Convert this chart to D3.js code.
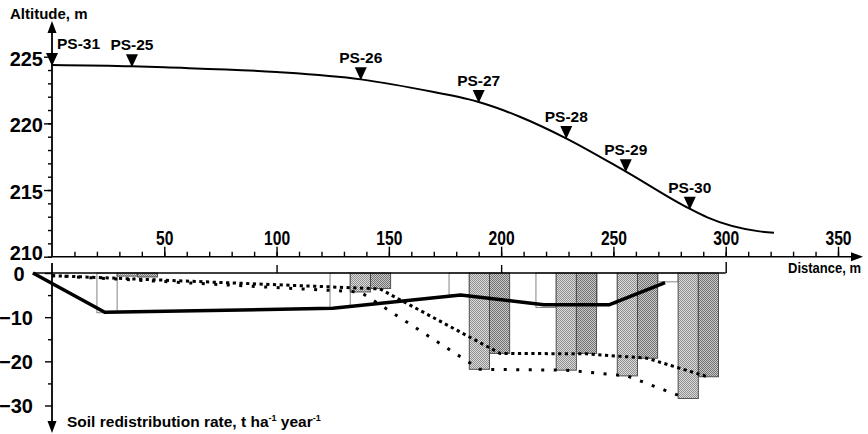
<!DOCTYPE html>
<html><head><meta charset="utf-8">
<script src="https://cdn.jsdelivr.net/npm/d3@7"></script>
<style>
body{margin:0;background:#fff}
svg{display:block}
text{font-family:"Liberation Sans",Arial,sans-serif;font-weight:bold;fill:#000}
</style>
</head><body>
<svg id="c" width="868" height="434"></svg>
<script>
// ---------- data ----------
const distanceTickLabels = [50, 100, 150, 200, 250, 300, 350];
const altitudeTickLabels = [210, 215, 220, 225];
const rateTickLabels = [0, -10, -20, -30];

// surface profile
const profileDist = [0, 35.6, 50, 100, 137.5, 170, 185.7, 190, 208.3, 228.7, 255.4, 283.9, 291.8, 315, 321.5];
const profileAlt  = [224.38, 224.28, 224.2, 223.85, 223.3, 222.35, 221.8, 221.6, 220.5, 218.9, 216.4, 213.6, 212.95, 211.9, 211.8];

// sampling points
const siteNames = ["PS-31", "PS-25", "PS-26", "PS-27", "PS-28", "PS-29", "PS-30"];
const siteDist  = [0, 35.6, 137.5, 190, 229, 255.5, 284];
const siteAlt   = [224.38, 224.28, 223.3, 221.6, 218.9, 216.4, 213.6];

// soil redistribution rate bars (groups at sampling points PS-25..PS-30)
const groupDist = [33.5, 137.3, 190.3, 229, 256.2, 283.3];
const rateA = [-9.0, -7.8, -5.0, -7.8, -7.0, -2.0];    // white bars
const rateB = [-0.7, -4.3, -21.8, -22.0, -23.3, -28.4]; // light stippled bars
const rateC = [-0.9, -3.5, -18.2, -18.2, -19.3, -23.5]; // dark stippled bars

// lines
const solidDist = [-8.5, 23.5, 125, 182, 219, 248, 273];
const solidVal  = [0, -8.9, -8.0, -5.0, -7.2, -7.2, -2.2];
const sparseDist = [0, 137.3, 190.5, 229, 256, 281.5];
const sparseVal  = [-0.6, -4.3, -21.8, -22.0, -23.3, -28.2];
const denseDist = [0, 146, 199.5, 238, 265, 292];
const denseVal  = [-0.6, -3.6, -18.2, -18.3, -19.3, -23.5];

const barWidth = 9; // metres

// ---------- drawing ----------
const svg = d3.select("#c");
const x = d3.scaleLinear().domain([0, 350]).range([52, 838]);
const yTop = d3.scaleLinear().domain([210, 225]).range([256.7, 56.7]);
const yBot = d3.scaleLinear().domain([0, -30]).range([273, 405.5]);
const axisX = 52, topAxisY = 256.7, zeroY = yBot(0);

const defs = svg.append("defs");
function pat(id, base, dot) {
  const p = defs.append("pattern").attr("id", id).attr("width", 2).attr("height", 2)
    .attr("patternUnits", "userSpaceOnUse");
  p.append("rect").attr("width", 2).attr("height", 2).attr("fill", base);
  p.append("rect").attr("width", 1).attr("height", 1).attr("fill", dot);
  p.append("rect").attr("x", 1).attr("y", 1).attr("width", 1).attr("height", 1).attr("fill", dot);
}
pat("patLight", "#dcdcdc", "#8e8e8e");
pat("patDark", "#c8c8c8", "#727272");

// ---- upper chart axes ----
const gx = svg.append("g").attr("transform", `translate(0,${topAxisY})`);
gx.call(d3.axisTop(x).tickValues(d3.range(10, 351, 10)).tickSize(5).tickFormat(""))
  .call(g => g.select(".domain").remove());
const gxm = svg.append("g").attr("transform", `translate(0,${topAxisY})`);
gxm.call(d3.axisTop(x).tickValues(distanceTickLabels).tickSize(10).tickPadding(2))
  .call(g => g.select(".domain").remove());
gxm.selectAll("text").style("font-size", "20px").attr("font-family", null)
  .attr("textLength", d => String(d).length * 8.7).attr("lengthAdjust", "spacingAndGlyphs");

svg.append("line").attr("x1", axisX).attr("x2", 852).attr("y1", topAxisY).attr("y2", topAxisY)
  .attr("stroke", "#000").attr("stroke-width", 1.6);
svg.append("path").attr("d", `M863,${topAxisY} L851,${topAxisY - 4.5} L851,${topAxisY + 4.5} Z`).attr("fill", "#000");

// y axis altitude
const gy = svg.append("g").attr("transform", `translate(${axisX},0)`);
gy.call(d3.axisLeft(yTop).tickValues(d3.range(210, 226, 1)).tickSize(4).tickFormat(""))
  .call(g => g.select(".domain").remove());
const gym = svg.append("g").attr("transform", `translate(${axisX},0)`);
gym.call(d3.axisLeft(yTop).tickValues(altitudeTickLabels).tickSize(8).tickPadding(1))
  .call(g => g.select(".domain").remove());
gym.selectAll("text").style("font-size", "20px").attr("font-family", null).attr("dy", "0.42em")
  .filter(d => d === 210).attr("y", -6);
svg.append("line").attr("x1", axisX).attr("x2", axisX).attr("y1", topAxisY).attr("y2", 32)
  .attr("stroke", "#000").attr("stroke-width", 1.8);
svg.append("path").attr("d", `M${axisX},21 L${axisX - 4.5},33 L${axisX + 4.5},33 Z`).attr("fill", "#000");
svg.append("text").attr("x", 10).attr("y", 19).style("font-size", "15px").text("Altitude, m");

// profile line
const profile = profileDist.map((d, i) => [d, profileAlt[i]]);
svg.append("path").datum(profile)
  .attr("d", d3.line().x(d => x(d[0])).y(d => yTop(d[1])).curve(d3.curveMonotoneX))
  .attr("fill", "none").attr("stroke", "#000").attr("stroke-width", 2);

// site markers
siteNames.forEach((name, i) => {
  const cx = x(siteDist[i]), cy = yTop(siteAlt[i]);
  svg.append("path").attr("d", `M${cx},${cy + 1} L${cx - 6},${cy - 12} L${cx + 6},${cy - 12} Z`).attr("fill", "#000");
  svg.append("text").attr("x", i === 0 ? cx + 5 : cx).attr("y", cy - 16)
    .attr("text-anchor", i === 0 ? "start" : "middle").style("font-size", "15.5px").text(name);
});

// ---- lower chart ----
const series = [
  {vals: rateA, off: -13.5, fill: "#fff", stroke: "#777"},
  {vals: rateB, off: -4.5, fill: "url(#patLight)", stroke: "#444"},
  {vals: rateC, off: 4.5, fill: "url(#patDark)", stroke: "#444"}
];
series.forEach(s => {
  svg.append("g").selectAll("rect").data(s.vals).join("rect")
    .attr("x", (d, i) => x(groupDist[i] + s.off))
    .attr("width", (d, i) => x(groupDist[i] + s.off + barWidth) - x(groupDist[i] + s.off))
    .attr("y", zeroY)
    .attr("height", d => yBot(d) - zeroY)
    .attr("fill", s.fill).attr("stroke", s.stroke).attr("stroke-width", 0.9);
});

// lower y axis
const gyb = svg.append("g").attr("transform", `translate(${axisX},0)`);
gyb.call(d3.axisLeft(yBot).tickValues([-5, -15, -25]).tickSize(4).tickFormat(""))
  .call(g => g.select(".domain").remove());
const gybm = svg.append("g").attr("transform", `translate(${axisX},0)`);
gybm.call(d3.axisLeft(yBot).tickValues(rateTickLabels).tickSize(7).tickPadding(12))
  .call(g => g.select(".domain").remove());
gybm.selectAll("text").style("font-size", "20px").attr("font-family", null).attr("dy", "0.36em")
  .filter(d => d === 0).attr("text-anchor", "middle").attr("x", -33);
svg.append("line").attr("x1", axisX).attr("x2", axisX).attr("y1", 263).attr("y2", 423)
  .attr("stroke", "#000").attr("stroke-width", 1.8);
svg.append("path").attr("d", `M${axisX},433 L${axisX - 4.5},421 L${axisX + 4.5},421 Z`).attr("fill", "#000");

// lower zero line with ticks
svg.append("line").attr("x1", x(-8.5)).attr("x2", x(300)).attr("y1", zeroY).attr("y2", zeroY)
  .attr("stroke", "#000").attr("stroke-width", 1.5);
const gxb = svg.append("g").attr("transform", `translate(0,${zeroY})`);
gxb.call(d3.axisTop(x).tickValues([100, 200]).tickSize(8).tickFormat(""))
  .call(g => g.select(".domain").remove());
const gxe = svg.append("g").attr("transform", `translate(0,${zeroY})`);
gxe.call(d3.axisTop(x).tickValues([300]).tickSize(11).tickFormat(""))
  .call(g => g.select(".domain").remove());
svg.selectAll("g.tick line").attr("stroke", "#000").attr("stroke-width", 1.4);

// lines
const lineB = d3.line().x(d => x(d[0])).y(d => yBot(d[1]));
svg.append("path").datum(sparseDist.map((d, i) => [d, sparseVal[i]])).attr("d", lineB)
  .attr("fill", "none").attr("stroke", "#000").attr("stroke-width", 3).attr("stroke-dasharray", "3,9.5");
svg.append("path").datum(denseDist.map((d, i) => [d, denseVal[i]])).attr("d", lineB)
  .attr("fill", "none").attr("stroke", "#000").attr("stroke-width", 3).attr("stroke-dasharray", "3.2,3.5");
svg.append("path").datum(solidDist.map((d, i) => [d, solidVal[i]])).attr("d", lineB)
  .attr("fill", "none").attr("stroke", "#000").attr("stroke-width", 3.5).attr("stroke-linejoin", "round");

// labels
svg.append("text").attr("transform", "translate(861,273) scale(1,1.15)").attr("text-anchor", "end")
  .style("font-size", "13px").text("Distance, m");
const sl = svg.append("text").attr("x", 67).attr("y", 427).style("font-size", "15.5px");
sl.append("tspan").text("Soil redistribution rate, t ha");
sl.append("tspan").attr("dy", -6).style("font-size", "9px").text("-1");
sl.append("tspan").attr("dy", 6).text(" year");
sl.append("tspan").attr("dy", -6).style("font-size", "9px").text("-1");
</script>
</body></html>
